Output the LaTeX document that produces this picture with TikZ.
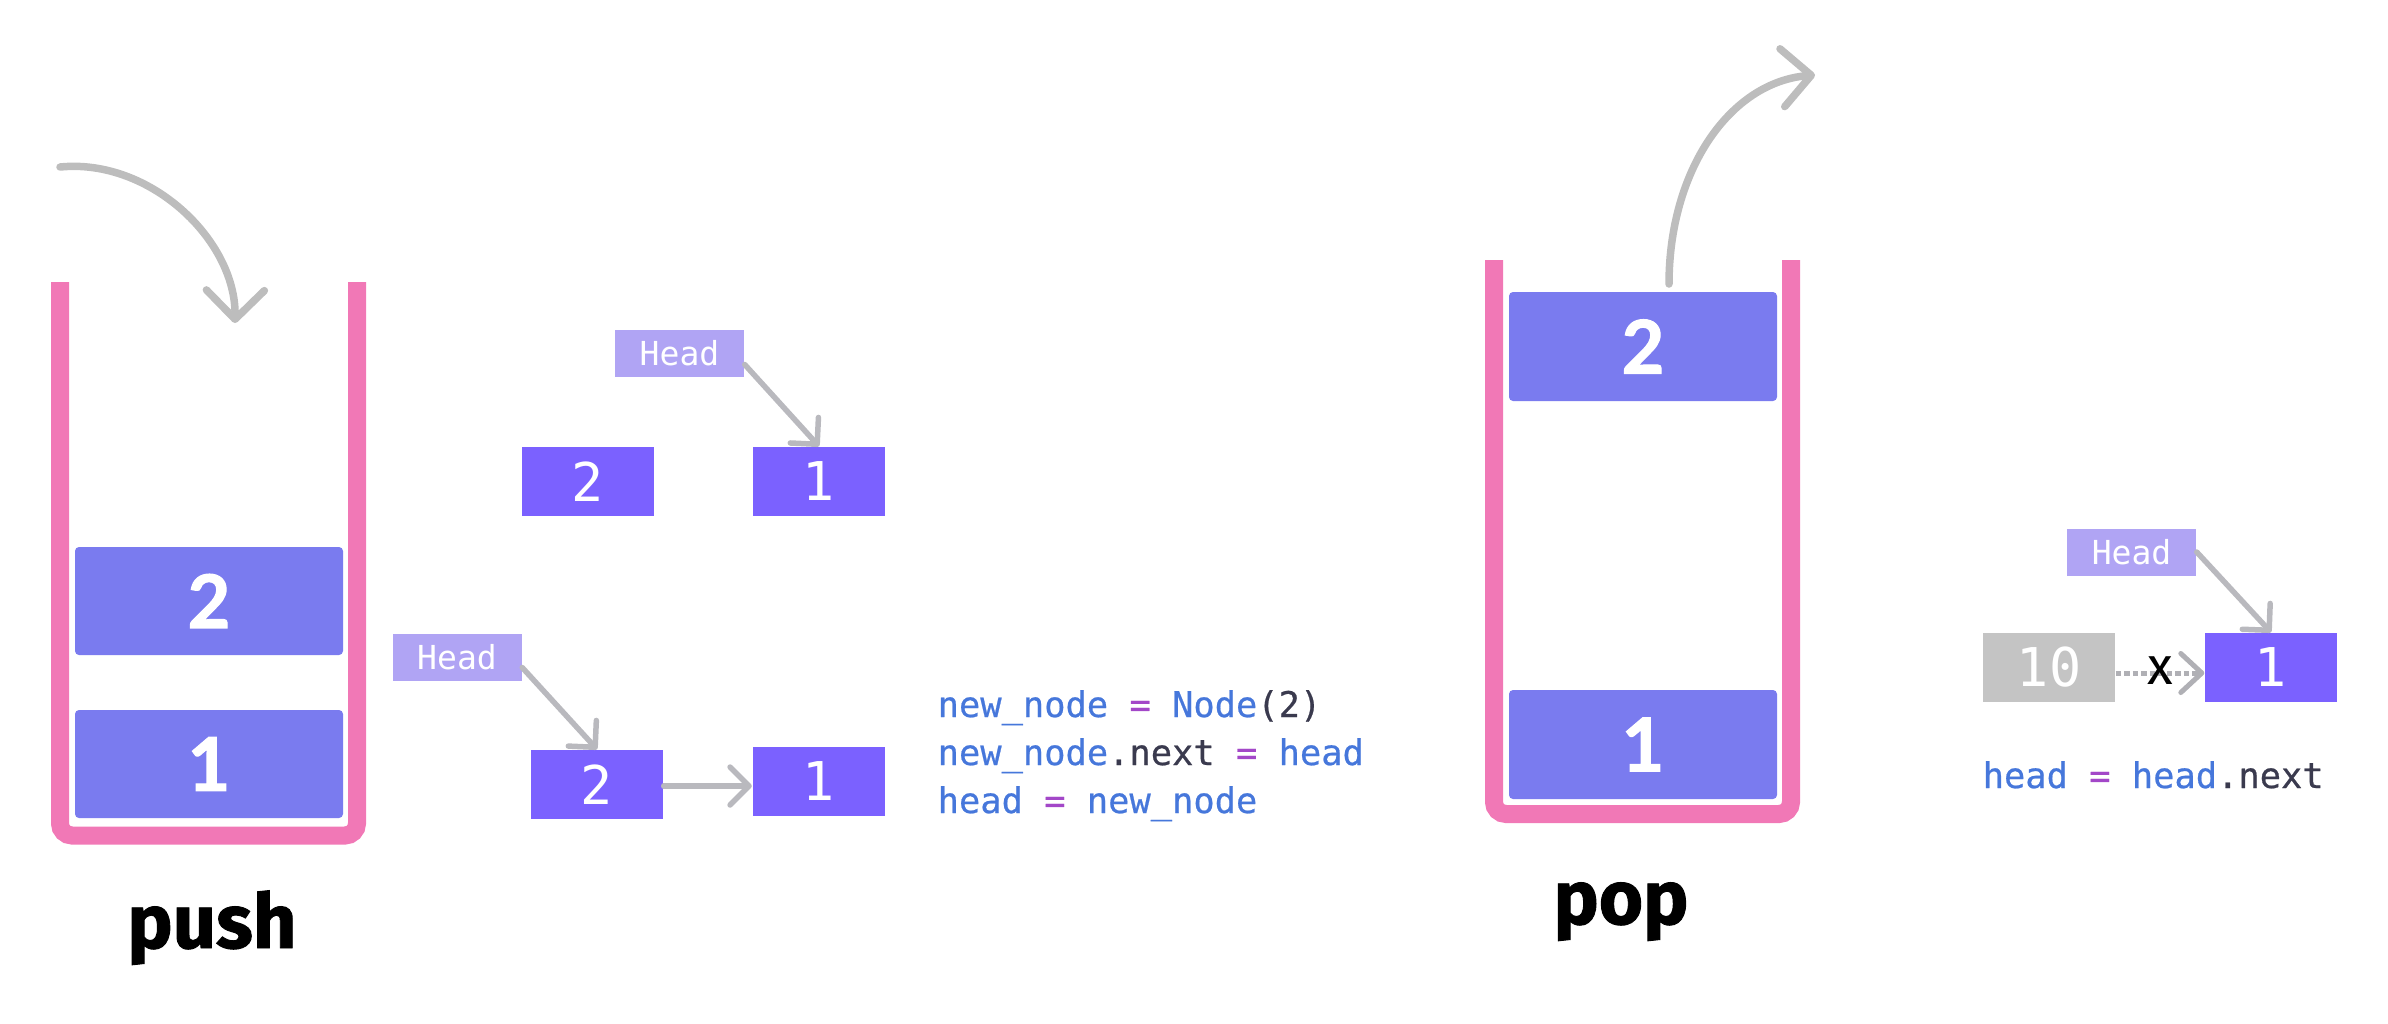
\documentclass[tikz,border=0pt]{standalone}
\usepackage{fontspec}
\setmainfont{Fira Sans}
\newfontfamily\monof{DejaVu Sans Mono}
\newfontfamily\codef{DejaVu Sans Mono}[FakeBold=0.6]
\newfontfamily\latof{Lato}[BoldFeatures={FakeBold=1.6}]
\newfontfamily\firaf{Fira Sans}[BoldFeatures={FakeBold=1.2}]
\usetikzlibrary{arrows.meta}
\definecolor{pinkc}{HTML}{F178B6}
\definecolor{stackc}{HTML}{7A7BEF}
\definecolor{nodec}{HTML}{7B61FF}
\definecolor{headc}{HTML}{B0A4F4}
\definecolor{grayn}{HTML}{C4C4C4}
\definecolor{arrowc}{HTML}{BDBDBD}
\definecolor{llarr}{HTML}{B9B9BE}
\definecolor{dotc}{HTML}{B0B0B5}
\definecolor{codeb}{HTML}{4677DB}
\definecolor{codep}{HTML}{A347C8}
\definecolor{coded}{HTML}{3A3A4E}
\tikzset{
  stackwall/.style={pinkc, line width=1.8mm, rounded corners=1.2mm},
  stackbox/.style={fill=stackc, rounded corners=0.4mm, minimum width=26.8mm, minimum height=10.8mm, inner sep=0pt, text=white, font=\latof\bfseries\fontsize{21pt}{21pt}\selectfont},
  llnode/.style={fill=nodec, minimum width=13.2mm, minimum height=6.9mm, inner sep=0pt, text=white, font=\monof\fontsize{15.2pt}{15.2pt}\selectfont},
  oldnode/.style={llnode, fill=grayn},
  headbox/.style={fill=headc, minimum width=12.9mm, minimum height=4.7mm, inner sep=0pt, text=white, font=\monof\fontsize{9.4pt}{9.4pt}\selectfont},
  bigarrow/.style={arrowc, line width=0.75mm, line cap=round, -{Straight Barb[length=2.9mm, width=5.8mm, round]}},
  llarrow/.style={llarr, line width=0.55mm, line cap=round, -{Straight Barb[length=1.9mm, width=3.8mm, round]}},
  dotarrow/.style={dotc, line width=0.5mm, dash pattern=on 0.55mm off 0.3mm, -{Straight Barb[length=2.1mm, width=3.9mm, round]}},
  codetxt/.style={anchor=base west, inner sep=0pt, font=\codef\fontsize{10.07pt}{10.07pt}\selectfont},
  optitle/.style={anchor=base, inner sep=0pt, font=\firaf\bfseries\fontsize{21.6pt}{21.6pt}\selectfont}
}
\newcommand{\cb}[1]{\textcolor{codeb}{#1}}
\newcommand{\cp}[1]{\textcolor{codep}{#1}}
\newcommand{\cd}[1]{\textcolor{coded}{#1}}
\begin{document}
\begin{tikzpicture}[x=0.1mm, y=-0.1mm]
\useasboundingbox (0,0) rectangle (2388,1023);
% ---------- push stack ----------
\draw[stackwall] (60,282) -- (60,835.5) -- (357,835.5) -- (357,282);
\node[stackbox] (pb2) at (209,601) {2};
\node[stackbox] (pb1) at (209,764) {1};
\coordinate (pushS) at (60,167);
\coordinate (pushE) at (235,323);
\draw[bigarrow] (pushS) .. controls (150,158) and (236,240) .. (pushE);
\node[optitle] (pushlbl) at (212,948) {push};
% ---------- push linked list ----------
\node[headbox] (headA) at (679.5,353.5) {Head};
\node[llnode] (n2a) at (587.5,481.5) {2};
\node[llnode] (n1a) at (819,481.5) {1};
\draw[llarrow] ([yshift=-1.1mm]headA.east) -- (n1a.north);
\node[headbox] (headB) at (457,657) {Head};
\node[llnode] (n2b) at (597,784.5) {2};
\node[llnode] (n1b) at (818.5,781.5) {1};
\draw[llarrow] ([yshift=-1.05mm]headB.east) -- (n2b.north);
\draw[llarrow] ([yshift=-0.15mm]n2b.east) -- ([yshift=-0.15mm]n2b.east -| n1b.west);
% ---------- push code ----------
\node[codetxt] (c1) at (937,717) {\cb{new\_node} \cp{=} \cb{Node}\cd{(2)}};
\node[codetxt] (c2) at (937,765) {\cb{new\_node}\cd{.next} \cp{=} \cb{head}};
\node[codetxt] (c3) at (937,813) {\cb{head} \cp{=} \cb{new\_node}};
% ---------- pop stack ----------
\draw[stackwall] (1494,260) -- (1494,814) -- (1791,814) -- (1791,260);
\node[stackbox, minimum height=10.9mm] (qb2) at (1643,346.5) {2};
\node[stackbox, minimum height=10.9mm] (qb1) at (1643,744.5) {1};
\coordinate (popS) at (1669,284);
\coordinate (popE) at (1815,75);
\draw[bigarrow] (popS) .. controls (1669,170) and (1730,82) .. (popE);
\node[optitle] (poplbl) at (1621,924) {pop};
% ---------- pop linked list ----------
\node[headbox] (headC) at (2131.5,552) {Head};
\node[oldnode] (n10) at (2049,667.5) {10};
\node[llnode] (n1c) at (2271,667.5) {1};
\draw[llarrow] (headC.east) -- (n1c.north);
\draw[dotarrow] ([yshift=-0.55mm]n10.east) -- ([yshift=-0.55mm]n1c.west);
\node[inner sep=0pt, text=black, font=\firaf\fontsize{15pt}{15pt}\selectfont] (xmark) at (2160,671) {x};
\node[codetxt] (c4) at (1982,788) {\cb{head} \cp{=} \cb{head}\cd{.next}};
\end{tikzpicture}
\end{document}
